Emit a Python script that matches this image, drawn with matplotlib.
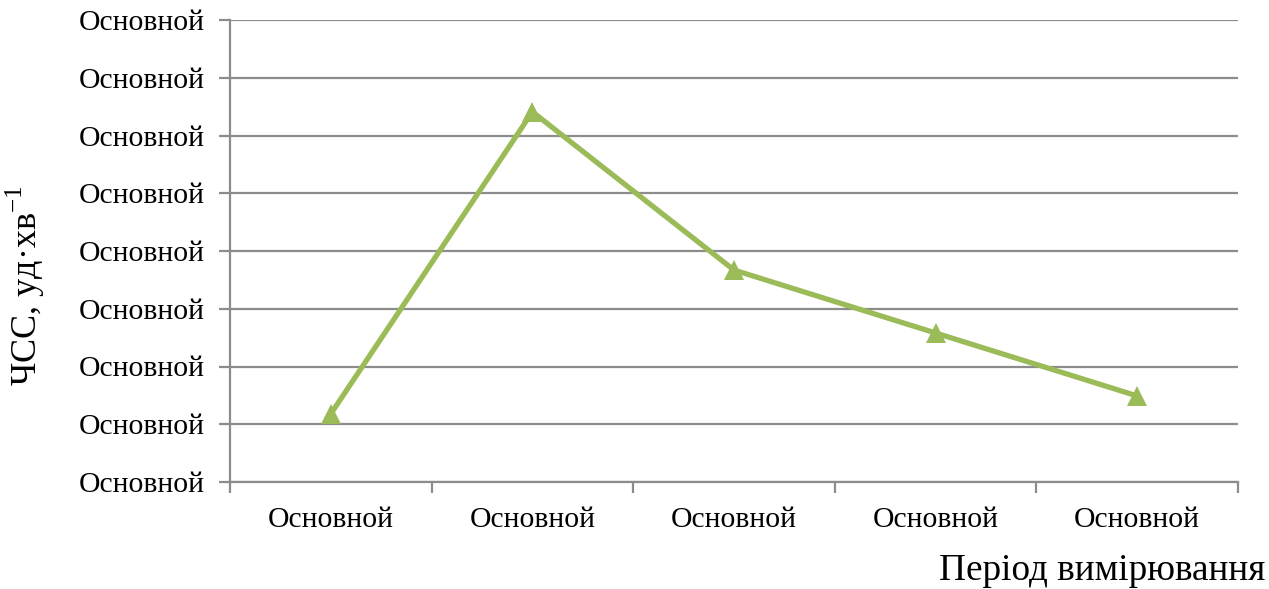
import matplotlib
matplotlib.use("Agg")
import matplotlib.pyplot as plt

plt.rcParams['font.family'] = ['Liberation Serif', 'DejaVu Serif']

# Heart-rate readings across the five measurement periods (axis units)
periods = ["Основной", "Основной", "Основной", "Основной", "Основной"]
hr_values = [1.18, 6.41, 3.67, 2.58, 1.49]
y_ticks = [0, 1, 2, 3, 4, 5, 6, 7, 8]
y_tick_labels = ["Основной"] * len(y_ticks)

W, H = 1269, 589
fig = plt.figure(figsize=(W / 100, H / 100), dpi=100)
ax = fig.add_axes([230 / W, (H - 482) / H, 1008 / W, 462 / H])

grid_c = "#8c8c8c"
line_c = "#9bbb59"

x = list(range(len(periods)))
ax.plot(x, hr_values, color=line_c, lw=3.8, marker="^", markersize=14,
        markeredgewidth=0, solid_joinstyle="miter", zorder=3, clip_on=False)

ax.set_xlim(-0.5, len(periods) - 0.5)
ax.set_ylim(y_ticks[0], y_ticks[-1])

ax.set_yticks(y_ticks)
ax.set_yticklabels(y_tick_labels, fontsize=21.3)
ax.yaxis.grid(True, color=grid_c, lw=1.6)
ax.set_axisbelow(True)

# Category labels centred, tick marks between categories
ax.set_xticks(x)
ax.set_xticklabels(periods, fontsize=21.3)
ax.tick_params(axis="x", which="major", length=0, pad=18)
ax.set_xticks([i - 0.5 for i in range(len(periods) + 1)], minor=True)
ax.tick_params(axis="x", which="minor", length=8, width=1.6, color=grid_c, direction="out")
ax.tick_params(axis="y", length=8, width=1.6, color=grid_c, pad=10)

for side in ("top", "right"):
    ax.spines[side].set_visible(False)
for side in ("left", "bottom"):
    ax.spines[side].set_color(grid_c)
    ax.spines[side].set_linewidth(1.6)

fig.text(1265 / W, 1 - 580 / H, "Період вимірювання", fontsize=26.8,
         ha="right", va="baseline")
fig.text(25 / W, 1 - 285 / H, "ЧСС, уд·хв$^{\\mathregular{-1}}$", fontsize=26,
         rotation=90, ha="center", va="center")

fig.savefig("out.png", dpi=100)
